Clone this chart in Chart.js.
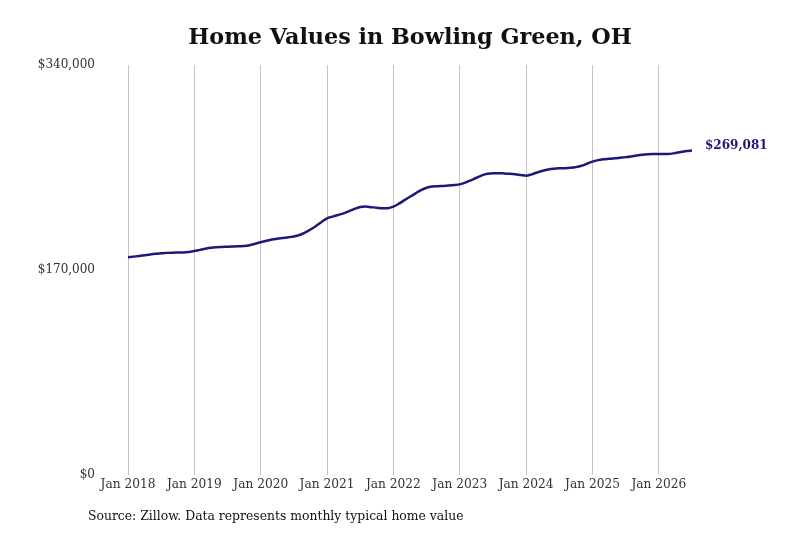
<!DOCTYPE html>
<html>
<head>
<meta charset="utf-8">
<script src="https://cdn.jsdelivr.net/npm/chart.js@4/dist/chart.umd.min.js"></script>
<style>
  html, body { margin: 0; padding: 0; background: #fff; }
  #wrap { width: 800px; height: 533px; position: relative; }
</style>
</head>
<body>
<div id="wrap"><canvas id="chart"></canvas></div>
<script>
const TITLE = 'Home Values in Bowling Green, OH';
const SOURCE = 'Source: Zillow. Data represents monthly typical home value';

const START_YEAR = 2018;
const MONTHS = ['Jan', 'Feb', 'Mar', 'Apr', 'May', 'Jun', 'Jul', 'Aug', 'Sep', 'Oct', 'Nov', 'Dec'];

// monthly typical home value, Jan 2018 .. Jul 2026
const values2018 = [180500, 181100, 181700, 182300, 182900, 183400, 183800, 184200, 184400, 184500, 184600, 185000];
const values2019 = [185700, 186700, 187700, 188500, 188900, 189100, 189300, 189500, 189700, 189900, 190600, 191800];
const values2020 = [193000, 194200, 195300, 196000, 196500, 197100, 197800, 199000, 201000, 203600, 206500, 209800];
const values2021 = [212900, 214300, 215600, 217000, 218800, 220700, 222300, 222600, 222100, 221600, 221200, 221300];
const values2022 = [222500, 225000, 227900, 230800, 233600, 236200, 238200, 239200, 239500, 239700, 240000, 240400];
const values2023 = [241000, 242400, 244400, 246500, 248500, 249800, 250300, 250300, 250100, 249800, 249400, 248800];
const values2024 = [248200, 249300, 250900, 252300, 253400, 254000, 254300, 254400, 254700, 255300, 256400, 258100];
const values2025 = [259900, 261100, 261800, 262200, 262600, 263100, 263600, 264200, 264900, 265500, 265900, 266100];
const values2026 = [266200, 266100, 266300, 267000, 267900, 268600, 269081];

const yTicks = [0, 170000, 340000];

const homeValues = [].concat(values2018, values2019, values2020, values2021, values2022,
    values2023, values2024, values2025, values2026);
const monthLabels = homeValues.map((_, i) => MONTHS[i % 12] + ' ' + (START_YEAR + Math.floor(i / 12)));

const FONT = "'DejaVu Serif', 'Liberation Serif', serif";
const LINE_COLOR = '#1c1a78';

const fmtMoney = v => '$' + v.toLocaleString('en-US');

// title, end label and source note
const annotations = {
    id: 'annotations',
    afterDraw(chart) {
        const ctx = chart.ctx;
        const xs = chart.scales.x;
        const ys = chart.scales.y;
        ctx.save();

        ctx.fillStyle = '#111';
        ctx.font = 'bold 22.3px ' + FONT;
        ctx.textAlign = 'center';
        ctx.textBaseline = 'middle';
        ctx.fillText(TITLE, 410, 38);

        const last = homeValues.length - 1;
        ctx.fillStyle = LINE_COLOR;
        ctx.font = 'bold 12px ' + FONT;
        ctx.textAlign = 'left';
        ctx.fillText(fmtMoney(homeValues[last]), xs.getPixelForValue(last) + 13, ys.getPixelForValue(homeValues[last]) - 5);

        ctx.fillStyle = '#111';
        ctx.font = '12.4px ' + FONT;
        ctx.fillText(SOURCE, 88, 517);
        ctx.restore();
    }
};

new Chart(document.getElementById('chart'), {
    type: 'line',
    data: {
        labels: monthLabels,
        datasets: [{
            label: 'Typical home value',
            data: homeValues,
            borderColor: LINE_COLOR,
            borderWidth: 2.5,
            pointRadius: 0,
            fill: false,
            tension: 0.4,
            cubicInterpolationMode: 'monotone',
        }],
    },
    options: {
        responsive: true,
        maintainAspectRatio: false,
        animation: false,
        layout: { padding: { top: 65, right: 108, bottom: 0, left: 0 } },
        plugins: {
            legend: { display: false },
            title: { display: false },
            tooltip: { enabled: false },
        },
        scales: {
            x: {
                type: 'category',
                offset: false,
                border: { display: false },
                grid: { color: '#c4c4c4', lineWidth: 1, drawTicks: false },
                ticks: {
                    autoSkip: false,
                    maxRotation: 0,
                    padding: 3,
                    color: '#333',
                    font: { family: FONT, size: 12.2 },
                    callback: (val, i) => (i % 12 === 0 ? monthLabels[i] : null),
                },
                afterFit: s => { s.height = 58; },
            },
            y: {
                min: 0,
                max: 340000,
                border: { display: false },
                grid: { display: false },
                afterBuildTicks: s => { s.ticks = yTicks.map(v => ({ value: v })); },
                ticks: {
                    padding: 25,
                    color: '#333',
                    font: { family: FONT, size: 12 },
                    callback: v => fmtMoney(v),
                },
                afterFit: s => { s.width = 128; },
            },
        },
    },
    plugins: [annotations],
});
</script>
</body>
</html>
